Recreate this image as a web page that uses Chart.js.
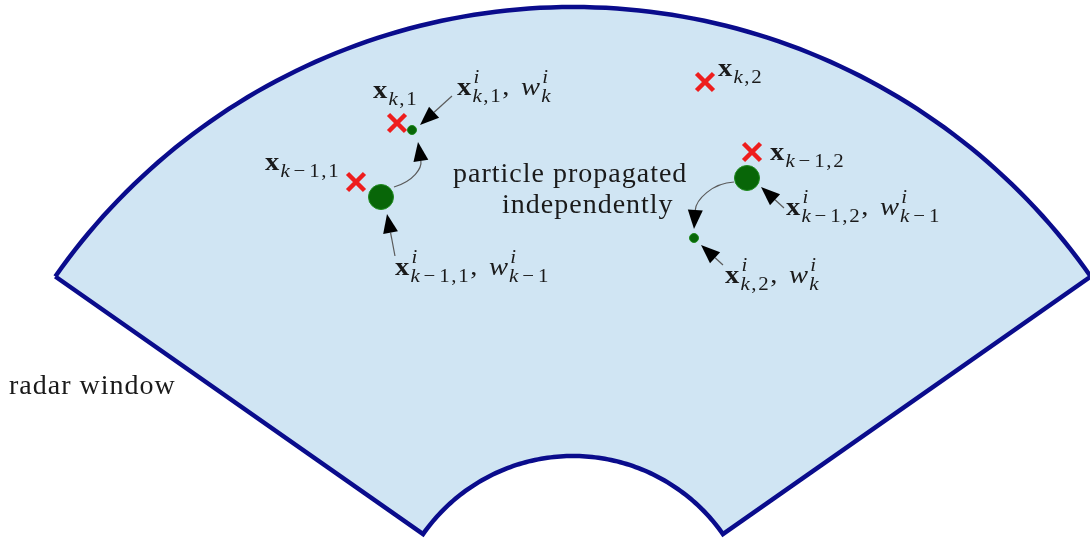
<!DOCTYPE html>
<html>
<head>
<meta charset="utf-8">
<script src="https://cdn.jsdelivr.net/npm/chart.js@4.4.0/dist/chart.umd.min.js"></script>
<style>
html, body { margin: 0; padding: 0; background: #fff; }
#wrap { width: 1090px; height: 539px; position: relative; }
</style>
</head>
<body>
<div id="wrap"><canvas id="myChart"></canvas></div>
<script>
// radar window (annular sector), picture units, y grows downwards
var sectorCenter = [573, 639];
var sectorRadii = [632, 183];       // outer, inner
var sectorHalfAngle = 55;           // degrees each side of vertical

// targets and particles
var trueTargets = [{x: 397, y: 123}, {x: 356, y: 182}, {x: 705, y: 82}, {x: 752, y: 152}];
var particlesBefore = [{x: 381, y: 197}, {x: 747, y: 178}];
var particlesAfter = [{x: 412, y: 130}, {x: 694, y: 238}];

// arrows: 2 points = straight, 4 points = cubic curve; head at the last point
var arrows = [
	[[452, 96], [420, 125]],
	[[394, 187], [414, 181], [422, 168], [418, 142]],
	[[395, 256], [387, 214]],
	[[784, 208], [761, 187]],
	[[734, 182], [712, 183], [696, 200], [694, 229]],
	[[723, 265], [701, 245]]
];

// labels
var mathLabels = ["x_{k,1}", "x^{i}_{k,1}, w^{i}_{k}", "x_{k-1,1}", "x_{k,2}", "x_{k-1,2}",
	"x^{i}_{k-1,2}, w^{i}_{k-1}", "x^{i}_{k,2}, w^{i}_{k}", "x^{i}_{k-1,1}, w^{i}_{k-1}"];
var mathAnchors = [[373, 98], [457, 95], [265, 170], [718, 76], [770, 160], [786, 215], [725, 283], [395, 275]];
var textLabels = ["particle propagated", "independently", "radar window"];
var textAnchors = [[453, 182], [502, 213], [9, 394]];

function sectorOutline() {
	var pts = [];
	var cx = sectorCenter[0], cy = sectorCenter[1];
	var a, r;
	for (a = -sectorHalfAngle; a <= sectorHalfAngle; a += 1) {
		r = a * Math.PI / 180;
		pts.push({x: cx + sectorRadii[0] * Math.sin(r), y: cy - sectorRadii[0] * Math.cos(r)});
	}
	for (a = sectorHalfAngle; a >= -sectorHalfAngle; a -= 1) {
		r = a * Math.PI / 180;
		pts.push({x: cx + sectorRadii[1] * Math.sin(r), y: cy - sectorRadii[1] * Math.cos(r)});
	}
	pts.push(pts[0]);
	return pts;
}

var MAIN = 26, SCRIPT = 19, STRETCH = 1.1, SERIF = "'Liberation Serif', serif";

function drawScript(ctx, s, x, y) {
	var i, ch;
	for (i = 0; i < s.length; i++) {
		ch = s[i];
		if (ch === "-") { ch = "\u2212"; x += 2; }
		ctx.font = /[a-z]/.test(ch) ? "italic " + SCRIPT + "px " + SERIF : SCRIPT + "px " + SERIF;
		ctx.fillText(ch, x, y);
		x += ctx.measureText(ch).width + 1.5;
		if (ch === "\u2212") x += 2;
	}
	return x;
}

// x is drawn in local (unstretched) units starting at 0
function drawMath(ctx, str, ox, y) {
	var i = 0, ch, sup = null, end, body, xs, xb, x = 0;
	ctx.save();
	ctx.translate(ox, 0);
	ctx.scale(STRETCH, 1);
	ctx.textBaseline = "alphabetic";
	ctx.textAlign = "left";
	while (i < str.length) {
		ch = str[i];
		if (ch === "^" || ch === "_") {
			end = str.indexOf("}", i);
			body = str.substring(i + 2, end);
			i = end + 1;
			if (ch === "^") {
				sup = body;
				if (str[i] !== "_") {
					x = drawScript(ctx, sup, x + 1, y - 11);
					sup = null;
				}
			} else {
				xb = drawScript(ctx, body, x + 1, y + 7);
				xs = x;
				if (sup !== null) xs = drawScript(ctx, sup, x + 2, y - 12);
				sup = null;
				x = Math.max(xb, xs);
			}
			continue;
		}
		if (ch === "x") ctx.font = "bold " + MAIN + "px " + SERIF;
		else if (ch === "w") ctx.font = "italic " + MAIN + "px " + SERIF;
		else ctx.font = MAIN + "px " + SERIF;
		ctx.fillText(ch, x, y);
		x += ctx.measureText(ch).width;
		if (ch === ",") x += 4;
		i++;
	}
	ctx.restore();
}

var annotations = {
	id: "annotations",
	afterDatasetsDraw: function (chart) {
		var ctx = chart.ctx;
		var sx = chart.scales.x, sy = chart.scales.y;
		function P(p) { return [sx.getPixelForValue(p[0]), sy.getPixelForValue(p[1])]; }
		ctx.save();
		arrows.forEach(function (a) {
			var pts = a.map(P);
			var tip = pts[pts.length - 1], prev = pts[pts.length - 2];
			var ang = Math.atan2(tip[1] - prev[1], tip[0] - prev[0]);
			var len = 19, hw = 7.5;
			var bx = tip[0] - len * Math.cos(ang), by = tip[1] - len * Math.sin(ang);
			ctx.strokeStyle = "#5a5a5a";
			ctx.lineWidth = 1.2;
			ctx.beginPath();
			ctx.moveTo(pts[0][0], pts[0][1]);
			if (pts.length === 4) ctx.bezierCurveTo(pts[1][0], pts[1][1], pts[2][0], pts[2][1], bx, by);
			else ctx.lineTo(bx, by);
			ctx.stroke();
			ctx.fillStyle = "#000";
			ctx.beginPath();
			ctx.moveTo(tip[0], tip[1]);
			ctx.lineTo(bx + hw * Math.sin(ang), by - hw * Math.cos(ang));
			ctx.lineTo(bx - hw * Math.sin(ang), by + hw * Math.cos(ang));
			ctx.closePath();
			ctx.fill();
		});
		ctx.fillStyle = "#1a1a1a";
		mathLabels.forEach(function (s, k) {
			var p = P(mathAnchors[k]);
			drawMath(ctx, s, p[0], p[1]);
		});
		ctx.font = "28px " + SERIF;
		ctx.letterSpacing = "1px";
		textLabels.forEach(function (s, k) {
			var p = P(textAnchors[k]);
			ctx.fillText(s, p[0], p[1]);
		});
		ctx.restore();
	}
};

new Chart("myChart", {
	type: "scatter",
	data: {
		datasets: [{
			data: sectorOutline(),
			showLine: true,
			fill: "shape",
			backgroundColor: "#d0e5f3",
			borderColor: "#0a0c8c",
			borderWidth: 4.5,
			borderJoinStyle: "miter",
			pointRadius: 0,
			tension: 0,
			clip: false,
			order: 10
		}, {
			data: trueTargets,
			pointStyle: "crossRot",
			pointRadius: 12,
			borderWidth: 4.5,
			borderColor: "#ee1d1d"
		}, {
			data: particlesBefore,
			pointRadius: 12.5,
			backgroundColor: "#086608",
			borderColor: "#1f8a1f",
			borderWidth: 1
		}, {
			data: particlesAfter,
			pointRadius: 4.5,
			backgroundColor: "#086608",
			borderColor: "#1f8a1f",
			borderWidth: 1
		}]
	},
	options: {
		responsive: true,
		maintainAspectRatio: false,
		animation: false,
		layout: {padding: 0, autoPadding: false},
		plugins: {legend: {display: false}, tooltip: {enabled: false}},
		scales: {
			x: {type: "linear", min: 0, max: 1090, display: false},
			y: {type: "linear", min: 0, max: 539, reverse: true, display: false}
		}
	},
	plugins: [annotations]
});
</script>
</body>
</html>
